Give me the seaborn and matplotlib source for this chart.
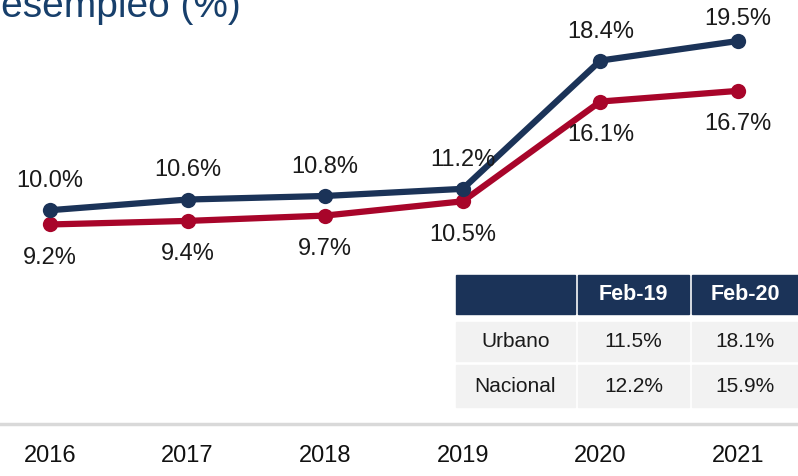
import pandas as pd
import numpy as np
import seaborn as sns
import matplotlib.pyplot as plt
from matplotlib.patches import Rectangle

# data
years = ['2016', '2017', '2018', '2019', '2020', '2021']
urbano = [10.0, 10.6, 10.8, 11.2, 18.4, 19.5]
nacional = [9.2, 9.4, 9.7, 10.5, 16.1, 16.7]

tabla_cols = ['Feb-19', 'Feb-20']
tabla_rows = ['Urbano', 'Nacional']
tabla_vals = [['11.5%', '18.1%'], ['12.2%', '15.9%']]

navy = '#1b3358'
red = '#a8052a'

df = pd.DataFrame({'year': years * 2,
                   'valor': urbano + nacional,
                   'serie': ['Urbano'] * 6 + ['Nacional'] * 6})
df['x'] = list(range(6)) * 2

sns.set_style('white')
plt.rcParams['font.family'] = ['Liberation Sans', 'DejaVu Sans']

W, H = 798, 476
fig = plt.figure(figsize=(W / 100, H / 100), dpi=100)
ax = fig.add_axes([0, 1 - 424 / H, 1, 424 / H])

sns.lineplot(data=df, x='x', y='valor', hue='serie',
             palette={'Urbano': navy, 'Nacional': red},
             hue_order=['Nacional', 'Urbano'],
             marker='o', markersize=11, markeredgewidth=0,
             linewidth=4.5, legend=False, ax=ax)

ax.set_xlim(-0.363, 5.436)
ax.set_ylim(-2.0, 21.8)

for i, v in enumerate(urbano):
    # last label sits a bit closer so it stays inside the frame
    off = 13 if i < len(urbano) - 1 else 8
    ax.annotate(f'{v:.1f}%', (i, v), xytext=(0, off), textcoords='offset points',
                ha='center', va='bottom', fontsize=17, color='#1a1a1a')
for i, v in enumerate(nacional):
    ax.annotate(f'{v:.1f}%', (i, v), xytext=(0, -16), textcoords='offset points',
                ha='center', va='top', fontsize=17, color='#1a1a1a')

ax.set_xticks(range(6))
ax.set_xticklabels(years, fontsize=17, color='#111111')
ax.tick_params(axis='x', length=0, pad=15)
ax.set_yticks([])
ax.set_xlabel('')
ax.set_ylabel('')
for s in ['top', 'left', 'right']:
    ax.spines[s].set_visible(False)
ax.spines['bottom'].set_color('#d9d9d9')
ax.spines['bottom'].set_linewidth(2.5)


def px(x0, y0, x1, y1):
    # pixel box -> figure fraction (left, bottom, width, height)
    return x0 / W, 1 - y1 / H, (x1 - x0) / W, (y1 - y0) / H


col_x = [(456, 575), (578, 689), (692, 798)]
row_y = [(275, 314), (322, 361), (365, 407)]

for j, (x0, x1) in enumerate(col_x):
    l, b, w, h = px(x0, row_y[0][0], x1, row_y[0][1])
    fig.patches.append(Rectangle((l, b), w, h, transform=fig.transFigure,
                                 color=navy, zorder=3))
    if j > 0:
        fig.text(l + w / 2, b + h / 2, tabla_cols[j - 1], ha='center', va='center',
                 color='white', fontsize=15.5, fontweight='bold', zorder=4)
for i, (y0, y1) in enumerate(row_y[1:]):
    for j, (x0, x1) in enumerate(col_x):
        l, b, w, h = px(x0, y0, x1, y1)
        fig.patches.append(Rectangle((l, b), w, h, transform=fig.transFigure,
                                     color='#f2f2f2', zorder=3))
        txt = tabla_rows[i] if j == 0 else tabla_vals[i][j - 1]
        fig.text(l + w / 2, b + h / 2, txt, ha='center', va='center',
                 color='#1a1a1a', fontsize=15, zorder=4)

fig.text(-27 / W, 1 - 17 / H, 'Desempleo (%)', ha='left', va='baseline',
         fontsize=28, color='#173f6b')

fig.savefig('out.png', dpi=100)
